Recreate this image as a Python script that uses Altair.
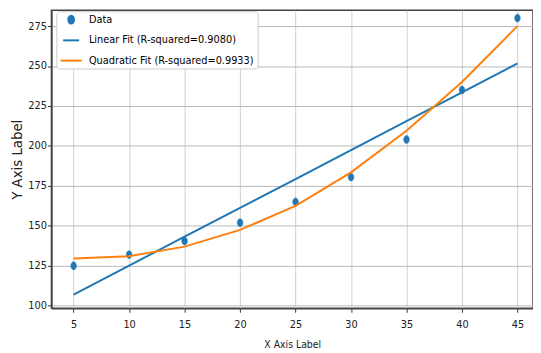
import altair as alt
import pandas as pd

x_vals = [5, 10, 15, 20, 25, 30, 35, 40, 45]
y_data = [125, 132, 140.5, 152, 165, 180.5, 204, 235, 280]
y_linear = [107, 125.1, 143.2, 161.2, 179.3, 197.4, 215.5, 233.5, 251.6]
y_quad = [129.5, 131, 137, 147.5, 162.5, 183.5, 209.5, 240, 275]
series_names = ["Data", "Linear Fit (R-squared=0.9080)", "Quadratic Fit (R-squared=0.9933)"]
colors = ["#1f77b4", "#1f77b4", "#ff7f0e"]
x_ticks = [5, 10, 15, 20, 25, 30, 35, 40, 45]
y_ticks = [100, 125, 150, 175, 200, 225, 250, 275]

pts = pd.DataFrame({"x": x_vals, "y": y_data, "series": series_names[0]})
fits = pd.concat([
    pd.DataFrame({"x": x_vals, "y": y_linear, "series": series_names[1]}),
    pd.DataFrame({"x": x_vals, "y": y_quad, "series": series_names[2]}),
])

FONT = "DejaVu Sans Condensed"
ELLIPSE = "M0,-1A0.72,1,0,1,1,0,1A0.72,1,0,1,1,0,-1Z"
shapes = [ELLIPSE, "stroke", "stroke"]
sizes = [64, 460, 460]

xs = alt.Scale(domain=[3, 46.4], nice=False, zero=False)
ys = alt.Scale(domain=[98.4, 284.9], nice=False, zero=False)

xax = alt.Axis(values=x_ticks, title="X Axis Label", gridColor="#d0d0d0",
               labelPadding=6, titlePadding=11, titleFontSize=10.5)
yax = alt.Axis(values=y_ticks, title="Y Axis Label", gridColor="#b8b8b8",
               labelPadding=1, titlePadding=3, titleFontSize=13.5, titleFont="DejaVu Sans")

legend = alt.Legend(
    title=None, orient="none", legendX=5, legendY=1,
    fillColor="white", strokeColor="#cccccc", cornerRadius=3, padding=3,
    rowPadding=3, labelFont=FONT, labelFontSize=11, labelColor="#000000",
    labelOffset=6, symbolStrokeWidth=2, labelLimit=400,
)

color = alt.Color("series:N", scale=alt.Scale(domain=series_names, range=colors), legend=legend)
shape = alt.Shape("series:N", scale=alt.Scale(domain=series_names, range=shapes), legend=legend)
size = alt.Size("series:N", scale=alt.Scale(domain=series_names, range=sizes), legend=legend)

points = alt.Chart(pts).mark_point(filled=False, opacity=1, strokeWidth=0.5).encode(
    x=alt.X("x:Q", scale=xs, axis=xax),
    y=alt.Y("y:Q", scale=ys, axis=yax),
    color=color,
    shape=shape,
    size=size,
    fill=alt.Fill("series:N", scale=alt.Scale(domain=series_names, range=["#1f77b4", "transparent", "transparent"]), legend=None),
)
lines = alt.Chart(fits).mark_line(strokeWidth=2).encode(
    x=alt.X("x:Q", scale=xs),
    y=alt.Y("y:Q", scale=ys),
    color=color,
    detail="series:N",
)

chart = alt.layer(points, lines).properties(
    width=488, height=302,
    padding={"left": 3, "top": 0, "right": 0, "bottom": 0},
).configure_view(
    stroke="#444444", strokeWidth=1.5,
).configure_axis(
    labelFont=FONT, labelFontSize=11, labelColor="#222222",
    titleFont=FONT, titleColor="#222222", titleFontWeight="normal",
    tickColor="#333333", tickSize=4, domainColor="#444444", domainWidth=1.5,
    gridWidth=1,
)

chart.save("out.html", embed_options={"renderer": "svg", "actions": False})
